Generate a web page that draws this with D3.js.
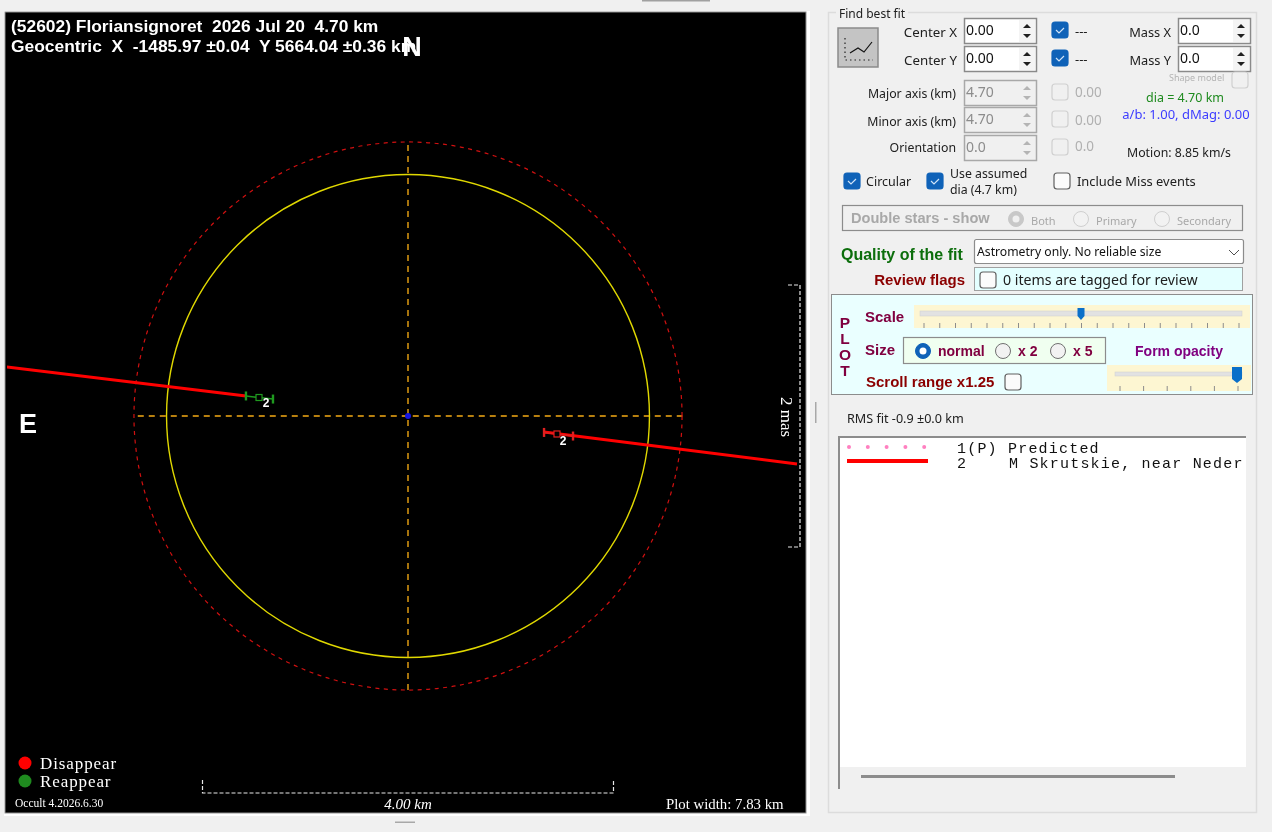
<!DOCTYPE html>
<html>
<head>
<meta charset="utf-8">
<script src="https://cdn.jsdelivr.net/npm/d3@7"></script>
<style>
  html, body { margin: 0; padding: 0; background: #f0f0f0; overflow: hidden; }
  svg { display: block; filter: blur(0.35px); }
  text { white-space: pre; }
</style>
</head>
<body>
<div id="graphic"></div>
<script>
const width = 1272;
const height = 832;

// chart values, all in km from the fit centre (east is left, north is up)
const assumedDia = 4.70;
const predictedDia = 5.334;
const crossX = [-2.63, 2.67];
const crossY = [-2.667, 2.667];
const chordD = [[-3.903, 0.477], [-1.577, 0.195]];
const chordR = [[1.324, -0.156], [3.786, -0.467]];
const reappearTicks = [[-1.577, 0.195], [-1.450, 0.180], [-1.314, 0.165]];
const disappearTicks = [[1.324, -0.160], [1.450, -0.175], [1.606, -0.195]];
const chordLabels = [[-1.38, 0.085, '2'], [1.51, -0.285, '2']];
const scaleBarKm = [-2, 2];
const scaleBarMas = [-1, 1];

const headerLines = ['(52602) Floriansignoret  2026 Jul 20  4.70 km',
                     'Geocentric  X  -1485.97 \u00b10.04  Y 5664.04 \u00b10.36 km'];
const eventNames = ['Disappear', 'Reappear'];
const eventColors = ['#ff0000', '#1f8a1f'];
const ticksScale = d3.range(21);
const ticksOpacity = d3.range(6);
const legendDots = d3.range(5);

const scaleX = d3.scaleLinear().domain([-2, 2]).range([202.5, 613.5]);
const scaleY = d3.scaleLinear().domain([-2, 2]).range([621.5, 210.5]);
const scaleMas = d3.scaleLinear().domain([-1, 1]).range([547, 285]);
const line = d3.line().x(d => scaleX(d[0])).y(d => scaleY(d[1]));

const sans = '"Noto Sans", sans-serif';
const arial = '"Liberation Sans", sans-serif';
const serif = '"Liberation Serif", serif';

const svg = d3.select('#graphic').append('svg')
    .attr('width', width)
    .attr('height', height);

function label(g, x, y, str, size, color, opts) {
    opts = opts || {};
    return g.append('text')
        .attr('x', x).attr('y', y)
        .attr('font-family', opts.font || sans)
        .attr('font-size', size)
        .attr('font-weight', opts.bold ? 'bold' : 'normal')
        .attr('font-style', opts.italic ? 'italic' : 'normal')
        .attr('text-anchor', opts.anchor || 'start')
        .attr('fill', color)
        .text(str);
}

function box(g, x, y, w, h, fill, stroke, sw) {
    return g.append('rect')
        .attr('x', x).attr('y', y).attr('width', w).attr('height', h)
        .attr('fill', fill)
        .attr('stroke', stroke || 'none')
        .attr('stroke-width', sw || 1);
}

function checkbox(g, x, y, state) {
    // state: on, off or dim
    box(g, x, y, 16, 16, state === 'on' ? '#0f62b8' : (state === 'dim' ? '#f0f0f0' : '#fbfbfb'),
        state === 'on' ? '#0f62b8' : (state === 'dim' ? '#d0d0d0' : '#606060'), 1.2).attr('rx', 3);
    if (state === 'on') {
        g.append('path')
            .attr('d', `M${x + 4} ${y + 8}l3 3l5 -5`)
            .attr('fill', 'none').attr('stroke', '#cfe3f7').attr('stroke-width', 1.2);
    }
}

function radio(g, x, y, state) {
    g.append('circle').attr('cx', x).attr('cy', y).attr('r', 7.5)
        .attr('fill', state === 'on' ? '#0f62b8' : (state === 'dimOn' ? '#c8c8c8' : '#f2f2f2'))
        .attr('stroke', state === 'on' ? '#0f62b8' : (state === 'dimOn' ? '#c8c8c8' : (state === 'dim' ? '#cfcfcf' : '#707070')));
    if (state === 'on' || state === 'dimOn') {
        g.append('circle').attr('cx', x).attr('cy', y).attr('r', 3.5).attr('fill', state === 'on' ? '#ffffff' : '#f0f0f0');
    }
}

function spinner(g, x, y, w, str, dim) {
    box(g, x + 0.5, y + 0.5, w, 25, dim ? '#f0f0f0' : '#ffffff', dim ? '#a8a8a8' : '#8a8a8a', 1.5);
    label(g, x + 2, y + 17, str, 14, dim ? '#8c8c8c' : '#101010');
    const bx = x + w - 17;
    box(g, bx, y + 2, 16, 22, dim ? '#f0f0f0' : '#f4f4f4');
    const col = dim ? '#b4b4b4' : '#202020';
    g.append('path').attr('d', `M${bx + 4} ${y + 10}l4 -4l4 4z`).attr('fill', col);
    g.append('path').attr('d', `M${bx + 4} ${y + 16}l4 4l4 -4z`).attr('fill', col);
}

function thumb(g, x, y, w, h) {
    g.append('path')
        .attr('d', `M${x - w / 2} ${y}h${w}v${h - 4}l${-w / 2} 4l${-w / 2} -4z`)
        .attr('fill', '#0a6fc9');
}

/* ---------- window bits ---------- */
box(svg, 0, 0, width, height, '#f0f0f0');
box(svg, 642, 0, 68, 1.5, '#a0a0a0');
box(svg, 395, 821.5, 20, 1.5, '#a8a8a8');
box(svg, 815, 402, 1.5, 21, '#a8a8a8');

/* ---------- plot ---------- */
box(svg, 4, 11, 806, 805, '#ffffff');
box(svg, 5, 12, 801, 801, '#000000').attr('stroke', '#909090').attr('stroke-width', 1);

const plot = svg.append('g');
plot.append('defs').append('clipPath').attr('id', 'plotClip')
    .append('rect').attr('x', 7).attr('y', 14).attr('width', 798).attr('height', 798);

plot.append('path')
    .attr('d', line([[crossX[0], 0], [crossX[1], 0]]))
    .attr('stroke', '#b8800f').attr('stroke-width', 1.8).attr('stroke-dasharray', '6 5');
plot.append('path')
    .attr('d', line([[0, crossY[0]], [0, crossY[1]]]))
    .attr('stroke', '#b8800f').attr('stroke-width', 1.8).attr('stroke-dasharray', '6 5');

plot.append('circle')
    .attr('cx', scaleX(0)).attr('cy', scaleY(0))
    .attr('r', scaleX(predictedDia / 2) - scaleX(0))
    .attr('fill', 'none').attr('stroke', '#d01010').attr('stroke-width', 1.2).attr('stroke-dasharray', '4 4.5');
plot.append('circle')
    .attr('cx', scaleX(0)).attr('cy', scaleY(0))
    .attr('r', scaleX(assumedDia / 2) - scaleX(0))
    .attr('fill', 'none').attr('stroke', '#e0d800').attr('stroke-width', 1.4);
plot.append('circle')
    .attr('cx', scaleX(0)).attr('cy', scaleY(0)).attr('r', 3)
    .attr('fill', '#1414e0');

const chords = plot.append('g').attr('clip-path', 'url(#plotClip)');
chords.selectAll('path.chord')
    .data([chordD, chordR])
    .enter().append('path')
    .attr('class', 'chord')
    .attr('d', line)
    .attr('stroke', '#ff0000').attr('stroke-width', 3).attr('fill', 'none');

function eventMarks(points, color) {
    plot.append('path').attr('d', line(points))
        .attr('stroke', color).attr('stroke-width', 1.5).attr('fill', 'none');
    [points[0], points[2]].forEach(p => {
        plot.append('line')
            .attr('x1', scaleX(p[0])).attr('x2', scaleX(p[0]))
            .attr('y1', scaleY(p[1]) - 4.5).attr('y2', scaleY(p[1]) + 4.5)
            .attr('stroke', color).attr('stroke-width', 2.4);
    });
    const mid = points[1];
    plot.append('rect')
        .attr('x', scaleX(mid[0]) - 3).attr('y', scaleY(mid[1]) - 3)
        .attr('width', 6).attr('height', 6)
        .attr('fill', '#000000').attr('stroke', color).attr('stroke-width', 1.2);
}
eventMarks(reappearTicks, '#1f9a1f');
eventMarks(disappearTicks, '#e02020');

plot.selectAll('text.chordLabel')
    .data(chordLabels)
    .enter().append('text')
    .attr('class', 'chordLabel')
    .attr('x', d => scaleX(d[0]))
    .attr('y', d => scaleY(d[1]))
    .attr('text-anchor', 'middle')
    .attr('font-family', arial).attr('font-size', 12).attr('font-weight', 'bold')
    .attr('fill', '#ffffff')
    .text(d => d[2]);

// header and compass
label(plot, 11, 32, headerLines[0], 17.4, '#ffffff', { font: arial, bold: true });
label(plot, 11, 52, headerLines[1], 17.4, '#ffffff', { font: arial, bold: true });
label(plot, 412, 56, 'N', 27, '#ffffff', { font: arial, bold: true, anchor: 'middle' });
label(plot, 28, 433, 'E', 27, '#ffffff', { font: arial, bold: true, anchor: 'middle' });

// event key
eventNames.forEach((name, i) => {
    plot.append('circle').attr('cx', 25).attr('cy', 763 + i * 18).attr('r', 6.5).attr('fill', eventColors[i]);
    label(plot, 40, 769 + i * 18, name, 17, '#ffffff', { font: serif }).attr('letter-spacing', 0.9);
});
label(plot, 15, 807, 'Occult 4.2026.6.30', 11.5, '#ffffff', { font: serif });

// 4 km bar and 2 mas bar
const barKm = plot.append('path')
    .attr('d', `M${scaleX(scaleBarKm[0])} 780V793H${scaleX(scaleBarKm[1])}V780`)
    .attr('fill', 'none').attr('stroke', '#e8e8e8').attr('stroke-width', 1.2).attr('stroke-dasharray', '4 2');
const barMas = plot.append('path')
    .attr('d', `M788 ${scaleMas(scaleBarMas[1])}H800V${scaleMas(scaleBarMas[0])}H788`)
    .attr('fill', 'none').attr('stroke', '#e8e8e8').attr('stroke-width', 1.2).attr('stroke-dasharray', '4 2');
label(plot, 408, 809, '4.00 km', 15, '#ffffff', { font: serif, italic: true, anchor: 'middle' });
label(plot, 666, 809, 'Plot width: 7.83 km', 14.8, '#ffffff', { font: serif });
label(plot, 0, 0, '2 mas', 17, '#ffffff', { font: serif, anchor: 'middle' })
    .attr('transform', 'translate(781,417) rotate(90)');

/* ---------- right hand panel ---------- */
const panel = svg.append('g');
box(panel, 828.5, 12.5, 428, 800, 'none', '#dcdcdc', 1.5);
box(panel, 836, 8, 72, 10, '#f0f0f0');
label(panel, 839, 18, 'Find best fit', 12, '#202020');

// fit button
box(panel, 838, 28, 40, 39, '#c4c4c4', '#8a8a8a', 1.5);
panel.append('path').attr('d', 'M850 53l8 -5l6 4l8 -10')
    .attr('fill', 'none').attr('stroke', '#111111').attr('stroke-width', 1.2);
panel.append('path').attr('d', 'M845 38V60H873')
    .attr('fill', 'none').attr('stroke', '#222222').attr('stroke-width', 1.2).attr('stroke-dasharray', '1.5 3');

const fitRows = [['Center X', 37, 18, '0.00'], ['Center Y', 65, 46, '0.00']];
fitRows.forEach(r => {
    label(panel, 957, r[1], r[0], 13.3, '#202020', { anchor: 'end' });
    spinner(panel, 964, r[2], 72, r[3], false);
    checkbox(panel, 1052, r[2] + 4, 'on');
    label(panel, 1075, r[1] - 1, '---', 13, '#202020');
});
const massRows = [['Mass X', 37, 18], ['Mass Y', 65, 46]];
massRows.forEach(r => {
    label(panel, 1171, r[1], r[0], 12.8, '#202020', { anchor: 'end' });
    spinner(panel, 1178, r[2], 72, '0.0', false);
});
label(panel, 1169, 81, 'Shape model', 9, '#b4b4b4');
checkbox(panel, 1232, 72, 'dim');

const axisRows = [['Major axis (km)', 98, 80, '4.70', '0.00'], ['Minor axis (km)', 126, 107, '4.70', '0.00'], ['Orientation', 152, 135, '0.0', '0.0']];
axisRows.forEach(r => {
    label(panel, 956, r[1], r[0], 12.3, '#202020', { anchor: 'end' });
    spinner(panel, 964, r[2], 72, r[3], true);
    checkbox(panel, 1052, r[2] + 4, 'dim');
    label(panel, 1075, r[1] - 1, r[4], 13.5, '#b0b0b0');
});
label(panel, 1185, 102, 'dia = 4.70 km', 12.5, '#1e8a1e', { anchor: 'middle' });
label(panel, 1186, 119, 'a/b: 1.00, dMag: 0.00', 13, '#3c3cff', { anchor: 'middle' });
label(panel, 1127, 157, 'Motion: 8.85 km/s', 12.3, '#202020');

checkbox(panel, 844, 173, 'on');
label(panel, 866, 186, 'Circular', 12.5, '#202020');
checkbox(panel, 927, 173, 'on');
label(panel, 950, 178, 'Use assumed', 12.3, '#202020');
label(panel, 950, 194, 'dia (4.7 km)', 12.3, '#202020');
checkbox(panel, 1054, 173, 'off');
label(panel, 1077, 186, 'Include Miss events', 12.9, '#202020');

// double stars
box(panel, 842.5, 205.5, 400, 25, '#f0f0f0', '#8c8c8c', 1.2);
label(panel, 851, 223, 'Double stars - show', 14.6, '#a8a8a8', { font: arial, bold: true });
const starOptions = [['Both', 1016, 'dimOn'], ['Primary', 1081, 'dim'], ['Secondary', 1162, 'dim']];
starOptions.forEach(o => {
    radio(panel, o[1], 219, o[2]);
    label(panel, o[1] + 15, 225, o[0], 11, '#a8a8a8');
});

// quality
label(panel, 841, 260, 'Quality of the fit', 16, '#0c6e0c', { font: arial, bold: true });
box(panel, 974.5, 239.5, 269, 24, '#ffffff', '#8c8c8c', 1.2).attr('rx', 2);
label(panel, 977, 256, 'Astrometry only. No reliable size', 12.2, '#111111');
panel.append('path').attr('d', 'M1229 250l5 5l5 -5').attr('fill', 'none').attr('stroke', '#505050');

label(panel, 965, 285, 'Review flags', 15, '#8b0000', { font: arial, bold: true, anchor: 'end' });
box(panel, 974.5, 267.5, 268, 23, '#e4ffff', '#a0a0a0', 1);
checkbox(panel, 980, 272, 'off');
label(panel, 1003, 285, '0 items are tagged for review', 14.2, '#202020');

// plot controls
box(panel, 831.5, 294.5, 421, 100, '#eaffff', '#8c8c8c', 1);
['P', 'L', 'O', 'T'].forEach((c, i) => {
    label(panel, 845, 328 + i * 16, c, 15.5, '#800040', { font: arial, bold: true, anchor: 'middle' });
});
label(panel, 865, 322, 'Scale', 15, '#800040', { font: arial, bold: true });
box(panel, 914, 305, 336, 23, '#fdf6d2');
box(panel, 920, 311, 322, 5, '#e2e2e2', '#cfcfcf', 0.5);
panel.selectAll('line.tickScale').data(ticksScale).enter().append('line')
    .attr('class', 'tickScale')
    .attr('x1', d => 924 + d * 15.75).attr('x2', d => 924 + d * 15.75)
    .attr('y1', 323).attr('y2', 328)
    .attr('stroke', '#8c8c8c');
thumb(panel, 1081, 308, 7, 12);

label(panel, 865, 355, 'Size', 15, '#800040', { font: arial, bold: true });
box(panel, 903.5, 337.5, 202, 26, '#f0fff0', '#8c8c8c', 1.2);
radio(panel, 923, 351, 'on');
label(panel, 938, 356, 'normal', 14, '#800040', { font: arial, bold: true });
radio(panel, 1003, 351, 'off');
label(panel, 1018, 356, 'x 2', 14, '#800040', { font: arial, bold: true });
radio(panel, 1058, 351, 'off');
label(panel, 1073, 356, 'x 5', 14, '#800040', { font: arial, bold: true });

label(panel, 1179, 356, 'Form opacity', 14, '#800080', { font: arial, bold: true, anchor: 'middle' });
box(panel, 1107, 365, 144, 26, '#fdf6d2');
box(panel, 1115, 372, 127, 4, '#e2e2e2', '#cfcfcf', 0.5);
panel.selectAll('line.tickOpacity').data(ticksOpacity).enter().append('line')
    .attr('class', 'tickOpacity')
    .attr('x1', d => 1120 + d * 23.6).attr('x2', d => 1120 + d * 23.6)
    .attr('y1', 386).attr('y2', 391)
    .attr('stroke', '#8c8c8c');
thumb(panel, 1237, 367, 10, 16);

label(panel, 866, 387, 'Scroll range x1.25', 15, '#8b0000', { font: arial, bold: true });
checkbox(panel, 1005, 374, 'off');

label(panel, 847, 423, 'RMS fit -0.9 \u00b10.0 km', 12.6, '#202020');

// event list
box(panel, 838, 436, 408, 331, '#ffffff');
box(panel, 838, 767, 408, 21, '#f0f0f0');
panel.append('path').attr('d', 'M839 789V437H1246').attr('fill', 'none').attr('stroke', '#8c8c8c').attr('stroke-width', 2);
box(panel, 861, 775, 314, 3, '#8c8c8c');
panel.selectAll('circle.legendDot').data(legendDots).enter().append('circle')
    .attr('class', 'legendDot')
    .attr('cx', d => 849 + d * 18.8).attr('cy', 447).attr('r', 2)
    .attr('fill', '#ff80c0');
box(panel, 847, 459, 81, 4, '#ff0000');
const mono = '"Liberation Mono", monospace';
label(panel, 957, 453, '1(P) Predicted', 15, '#111111', { font: mono }).attr('letter-spacing', 1.2);
label(panel, 957, 468, '2', 15, '#111111', { font: mono });
label(panel, 1009, 468, 'M Skrutskie, near Neder', 15, '#111111', { font: mono }).attr('letter-spacing', 1.2);
</script>
</body>
</html>
